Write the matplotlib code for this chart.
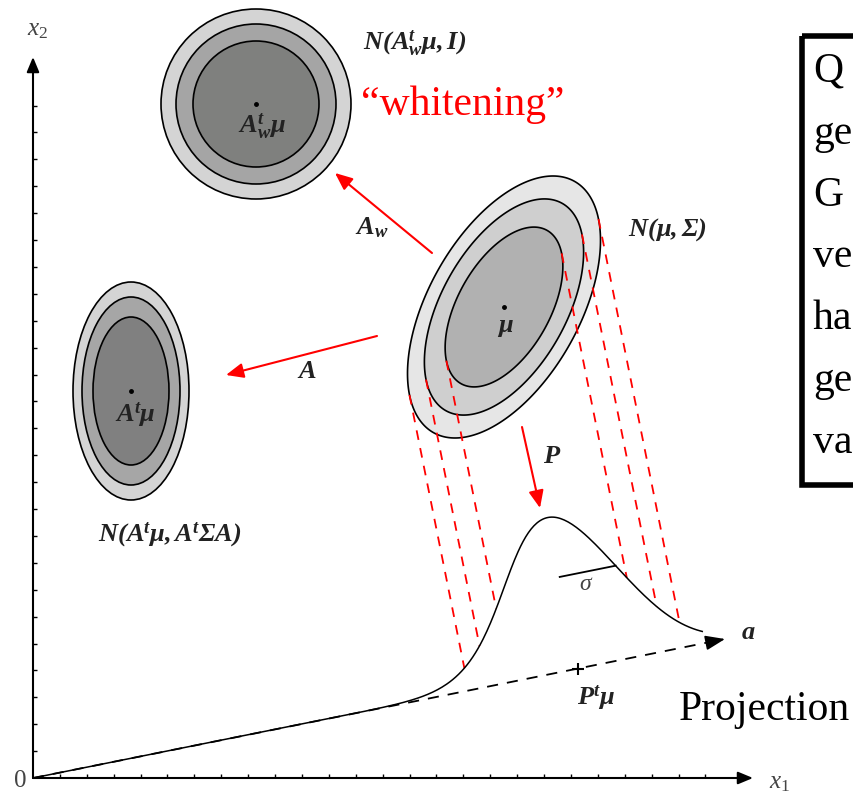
import numpy as np
import matplotlib.pyplot as plt
from matplotlib.patches import Ellipse, Polygon, Rectangle

plt.rcParams['font.family'] = ['Liberation Serif', 'DejaVu Serif']
plt.rcParams['mathtext.fontset'] = 'custom'
plt.rcParams['mathtext.rm'] = 'Liberation Serif'
plt.rcParams['mathtext.it'] = 'Liberation Serif:italic'
plt.rcParams['mathtext.bf'] = 'Liberation Serif:bold:italic'
plt.rcParams['lines.scale_dashes'] = False

# everything is in picture pixels, y going down
origin = np.array([33.0, 778.0])
x1_tip = [753, 778]
x2_tip = [33, 57]
tick_step = 26.9
n_ticks = 25

# whitened blob N(A_w'mu, I)
white_centre = [256, 104]
white_r = [95, 80, 63]
white_fill = ['#d4d4d4', '#a5a5a5', '#7f807e']

# blob N(A'mu, A'SA)
left_centre = [131, 391]
left_rx = [58, 49, 38]
left_ry = [109, 94, 74]
left_fill = ['#d4d4d4', '#a6a6a6', '#808080']

# original blob N(mu, S)
main_centre = [504, 307]
main_cov = [[9312, -6419], [-6419, 17161]]
main_scale = [1.0, 0.825, 0.61]
main_fill = ['#e6e6e6', '#cfcfcf', '#b1b1b1']

# projection axis a and the density drawn on it
a_tip = np.array([725.0, 639.0])
peak_t = 556
peak_h = 154
sigma = 57
curve_end_t = 685

# red arrows (start, tip)
arrow_aw = [(432, 253), (335, 173)]
arrow_a = [(377, 336), (226, 375)]
arrow_p = [(522, 427), (540, 508)]

box_lines = ['Q', 'ge', 'G', 've', 'ha', 'ge', 'va']

u = (a_tip - origin) / np.linalg.norm(a_tip - origin)
nrm = np.array([u[1], -u[0]])


def dens(t):
    return peak_h * np.exp(-(t - peak_t) ** 2 / (2 * sigma ** 2))


def on_axis(t, h):
    return origin + np.outer(t, u) + np.outer(h, nrm)


fig = plt.figure(figsize=(8.54, 7.94), dpi=100)
ax = fig.add_axes([0, 0, 1, 1])
ax.set_xlim(0, 854)
ax.set_ylim(794, 0)
ax.axis('off')

# axes x1, x2 with ticks
ax.annotate('', xy=x1_tip, xytext=origin,
            arrowprops=dict(arrowstyle='-|>,head_length=0.6,head_width=0.25', color='k',
                            lw=1.5, mutation_scale=15, shrinkA=0, shrinkB=0))
ax.annotate('', xy=x2_tip, xytext=origin,
            arrowprops=dict(arrowstyle='-|>,head_length=0.6,head_width=0.25', color='k',
                            lw=1.5, mutation_scale=15, shrinkA=0, shrinkB=0))
tk = np.arange(1, n_ticks + 1) * tick_step
ax.vlines(origin[0] + tk, origin[1] - 4, origin[1], color='k', lw=1)
ax.hlines(origin[1] - tk, origin[0], origin[0] + 4, color='k', lw=1)
ax.text(20, 781, '0', fontsize=18, color='#444444', ha='center', va='center')
ax.text(780, 783, r'$x_1$', fontsize=18, color='#444444', ha='center', va='center')
ax.text(38, 30, r'$x_2$', fontsize=18, color='#444444', ha='center', va='center')

# blobs
for r, c in zip(white_r, white_fill):
    ax.add_patch(Ellipse(white_centre, 2 * r, 2 * r, fc=c, ec='k', lw=1.2))
for rx, ry, c in zip(left_rx, left_ry, left_fill):
    ax.add_patch(Ellipse(left_centre, 2 * rx, 2 * ry, fc=c, ec='k', lw=1.2))
L = np.linalg.cholesky(np.array(main_cov, float))
th = np.linspace(0, 2 * np.pi, 300)
circ = np.vstack([np.cos(th), np.sin(th)])
for s, c in zip(main_scale, main_fill):
    pts = np.array(main_centre) + s * (L @ circ).T
    ax.add_patch(Polygon(pts, closed=True, fc=c, ec='k', lw=1.2))

for cen in (white_centre, left_centre, main_centre):
    ax.plot(cen[0], cen[1], 'o', color='k', ms=2.5)

# projection lines from the contour tangents down to the density
M = np.array(main_cov, float)
Mu = M @ u / np.sqrt(u @ M @ u)
for s in main_scale:
    for sign in (-1, 1):
        p = np.array(main_centre) + sign * s * Mu
        tp = (p - origin) @ u
        q = on_axis([tp], [dens(tp)])[0]
        ax.plot([p[0], q[0]], [p[1], q[1]], color='red', lw=1.3, ls=(0, (7, 6)))

# axis a (dashed) and density curve
ax.plot([origin[0], a_tip[0] - 8 * u[0]], [origin[1], a_tip[1] - 8 * u[1]],
        color='k', lw=1.3, ls=(0, (8, 6.5)))
ax.annotate('', xy=a_tip, xytext=a_tip - 14 * u,
            arrowprops=dict(arrowstyle='-|>,head_length=0.8,head_width=0.3', color='k',
                            lw=1.2, mutation_scale=15, shrinkA=0, shrinkB=0))
t = np.linspace(0, curve_end_t, 400)
cv = on_axis(t, dens(t))
ax.plot(cv[:, 0], cv[:, 1], color='k', lw=1.1)
pm = on_axis([peak_t], [0])[0]
ax.plot(pm[0], pm[1], '+', color='k', ms=8, mew=1.5)

# sigma bar at the inflection point
inf = on_axis([peak_t + sigma], [dens(peak_t + sigma)])[0]
ax.plot([inf[0], inf[0] - sigma * u[0]], [inf[1], inf[1] - sigma * u[1]], color='k', lw=1.3)
ax.text(586, 585, r'$\sigma$', fontsize=17, color='#444444', ha='center', va='center')

# red arrows
for st, tp in (arrow_aw, arrow_a, arrow_p):
    ax.annotate('', xy=tp, xytext=st,
                arrowprops=dict(arrowstyle='-|>,head_length=0.7,head_width=0.3', color='red',
                                lw=1.5, mutation_scale=15, shrinkA=0, shrinkB=0))

lab = dict(color='#222222', ha='center', va='center', fontsize=19)
ax.text(415, 43, r'$\mathbf{N(A^{t}_{w}\mu, I)}$', **lab)
ax.text(262, 126, r'$\mathbf{A^{t}_{w}\mu}$', **lab)
ax.text(667, 230, r'$\mathbf{N(\mu, \Sigma)}$', **lab)
ax.text(505, 328, r'$\mathbf{\mu}$', **lab)
ax.text(135, 415, r'$\mathbf{A^{t}\mu}$', **lab)
ax.text(170, 535, r'$\mathbf{N(A^{t}\mu, A^{t}\Sigma A)}$', **lab)
ax.text(372, 228, r'$\mathbf{A_{w}}$', **lab)
ax.text(307, 372, r'$\mathbf{A}$', **lab)
ax.text(552, 457, r'$\mathbf{P}$', **lab)
ax.text(748, 633, r'$\mathbf{a}$', **lab)
ax.text(596, 698, r'$\mathbf{P^{t}\mu}$', **lab)

ax.text(463, 115, '\u201cwhitening\u201d', color='red', fontsize=30, ha='center', va='baseline')
ax.text(679, 720, 'Projection', color='k', fontsize=30, ha='left', va='baseline')

# question box, cut by the right edge
ax.add_patch(Rectangle((802, 36), 90, 449, fill=False, ec='k', lw=4))
for i, s in enumerate(box_lines):
    ax.text(813, 82 + 61.8 * i, s, fontsize=30, color='k', ha='left', va='baseline')

fig.savefig('out.png', dpi=100)
